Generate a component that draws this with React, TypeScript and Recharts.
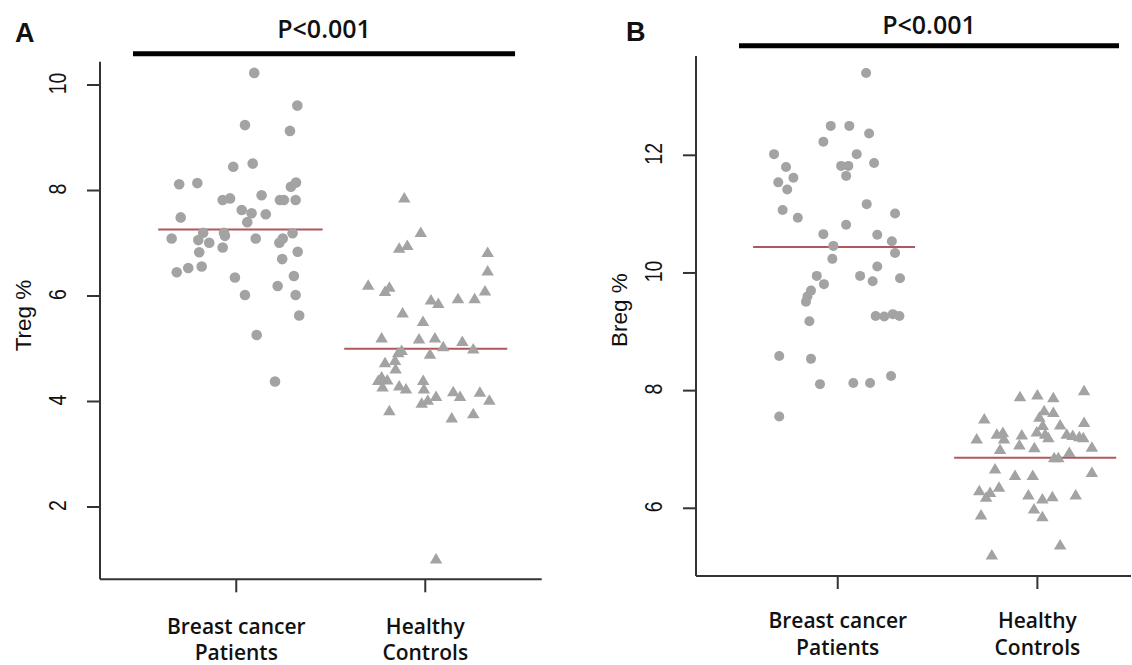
import React from 'react';
import { ScatterChart, Scatter, XAxis, YAxis, ReferenceLine } from 'recharts';

const GRAY = '#a3a3a3';
const MEAN_RED = '#b0585e';
const AXIS = '#333333';
const TEXT = '#111111';

const groupTicks = [1, 2];
const groupLabels = [
  ['Breast cancer', 'Patients'],
  ['Healthy', 'Controls'],
];
const pLabel = 'P<0.001';

// ---- Panel A: Treg %
const tregPatientsJitter = [0.095, 0.323, 0.046, 0.284, -0.016, 0.087, -0.302, -0.206, 0.289, 0.316, -0.072, -0.033, 0.134, 0.231, 0.252, 0.314, -0.294, 0.029, 0.081, 0.156, 0.058, -0.342, -0.201, -0.175, -0.143, -0.065, -0.06, 0.103, 0.228, 0.246, 0.298, -0.196, -0.072, 0.325, 0.243, -0.315, -0.254, -0.183, -0.007, 0.305, 0.219, 0.046, 0.314, 0.333, 0.108, 0.205];
const tregPatientsValues = [10.23, 9.61, 9.24, 9.13, 8.45, 8.51, 8.12, 8.14, 8.07, 8.15, 7.82, 7.85, 7.91, 7.82, 7.82, 7.82, 7.49, 7.63, 7.57, 7.55, 7.4, 7.09, 7.06, 7.2, 7.01, 7.2, 7.14, 7.09, 7.01, 7.09, 7.19, 6.83, 6.92, 6.84, 6.7, 6.45, 6.53, 6.56, 6.35, 6.38, 6.19, 6.02, 6.02, 5.63, 5.26, 4.38];
const tregControlsJitter = [-0.111, -0.024, -0.138, -0.095, 0.33, 0.33, -0.302, -0.213, -0.19, 0.316, 0.03, 0.069, 0.173, 0.261, -0.12, -0.012, -0.231, -0.033, 0.051, 0.196, 0.095, 0.254, -0.143, -0.125, 0.025, -0.213, -0.16, -0.157, -0.231, -0.249, -0.201, -0.226, -0.138, -0.102, -0.011, -0.007, 0.057, 0.148, 0.184, 0.289, 0.339, -0.019, 0.013, -0.19, 0.14, 0.254, 0.057];
const tregControlsValues = [7.87, 7.22, 6.92, 6.97, 6.84, 6.49, 6.22, 6.1, 6.18, 6.11, 5.94, 5.87, 5.96, 5.96, 5.69, 5.53, 5.22, 5.2, 5.22, 5.15, 5.05, 5.01, 4.94, 4.98, 4.91, 4.75, 4.79, 4.63, 4.48, 4.41, 4.42, 4.29, 4.31, 4.25, 4.41, 4.25, 4.11, 4.2, 4.11, 4.19, 4.04, 3.98, 4.04, 3.84, 3.7, 3.78, 1.03];
const tregMeans = [7.26, 5.0];
const tregTicks = [2, 4, 6, 8, 10];

// ---- Panel B: Breg %
const bregPatientsJitter = [0.142, -0.035, 0.058, 0.157, -0.072, -0.319, 0.095, -0.259, 0.017, 0.053, 0.182, -0.298, -0.222, -0.253, 0.042, -0.276, -0.2, 0.145, 0.287, 0.042, -0.072, 0.198, 0.271, -0.022, 0.287, -0.027, 0.198, -0.105, 0.112, 0.175, -0.069, 0.312, -0.134, -0.152, -0.159, -0.142, 0.19, 0.233, 0.276, 0.309, -0.293, -0.134, -0.089, 0.078, 0.162, 0.267, -0.293];
const bregPatientsValues = [13.4, 12.5, 12.5, 12.37, 12.23, 12.02, 12.02, 11.8, 11.82, 11.82, 11.87, 11.54, 11.62, 11.42, 11.65, 11.07, 10.94, 11.17, 11.01, 10.82, 10.66, 10.65, 10.54, 10.46, 10.34, 10.24, 10.11, 9.95, 9.95, 9.86, 9.81, 9.91, 9.7, 9.6, 9.51, 9.18, 9.27, 9.26, 9.3, 9.27, 8.59, 8.54, 8.11, 8.13, 8.13, 8.25, 7.56];
const bregControlsJitter = [0.234, -0.087, 0.0, 0.08, 0.034, 0.08, 0.01, -0.266, 0.234, 0.114, 0.027, -0.173, -0.203, -0.003, -0.078, 0.039, 0.147, 0.177, 0.21, -0.304, -0.167, 0.055, 0.23, -0.09, -0.015, -0.187, 0.16, 0.273, 0.084, 0.105, -0.212, -0.112, -0.023, 0.273, -0.291, -0.192, -0.237, -0.257, -0.045, 0.025, 0.075, 0.192, -0.017, -0.282, 0.025, 0.114, -0.228];
const bregControlsValues = [8.01, 7.91, 7.94, 7.89, 7.67, 7.64, 7.56, 7.53, 7.47, 7.43, 7.42, 7.3, 7.27, 7.31, 7.26, 7.27, 7.27, 7.25, 7.23, 7.19, 7.19, 7.21, 7.21, 7.09, 7.04, 7.01, 6.96, 7.05, 6.87, 6.87, 6.68, 6.57, 6.57, 6.62, 6.31, 6.37, 6.28, 6.2, 6.24, 6.17, 6.21, 6.24, 6.0, 5.9, 5.87, 5.39, 5.22];
const bregMeans = [10.44, 6.86];
const bregTicks = [6, 8, 10, 12];

const toPoints = (jitter: number[], values: number[], group: number) =>
  values.map((v, i) => ({ x: group + jitter[i], y: v }));

const panels = [
  {
    letter: 'A',
    letterPos: { left: 15, top: 18 },
    title: 'Treg %',
    left: 0,
    margin: { top: 61.7, right: 24.3, bottom: 0, left: 0 },
    yAxisWidth: 100,
    xAxisHeight: 85.7,
    xDomain: [0.279, 2.616],
    yDomain: [0.629, 10.442],
    yTicks: tregTicks,
    patients: toPoints(tregPatientsJitter, tregPatientsValues, 1),
    controls: toPoints(tregControlsJitter, tregControlsValues, 2),
    means: tregMeans,
    meanSpans: [[0.587, 1.457], [1.571, 2.434]],
    sig: { x1: 0.4536, x2: 2.475, y: 10.595, offset: 16 },
    titleX: 23,
    titleDy: -5,
    labelDy: [41.7, 67.7],
    r: 5.3,
  },
  {
    letter: 'B',
    letterPos: { left: 626, top: 17 },
    title: 'Breg %',
    left: 566,
    margin: { top: 56, right: 1, bottom: 0, left: 0 },
    yAxisWidth: 130,
    xAxisHeight: 89,
    xDomain: [0.29, 2.469],
    yDomain: [4.849, 13.688],
    yTicks: bregTicks,
    patients: toPoints(bregPatientsJitter, bregPatientsValues, 1),
    controls: toPoints(bregControlsJitter, bregControlsValues, 2),
    means: bregMeans,
    meanSpans: [[0.576, 1.387], [1.583, 2.395]],
    sig: { x1: 0.5054, x2: 2.409, y: 13.863, offset: 11.7 },
    titleX: 53,
    titleDy: -6,
    labelDy: [39.3, 66],
    r: 5,
  },
];

const makeYTick = () => (props: any) => {
  const { x, y, payload } = props;
  return (
    <g transform={`translate(${x - 29},${y - 1.5}) rotate(-90) scale(1,1.22)`}>
      <text
        x={0}
        y={0}
        textAnchor="middle"
        dominantBaseline="central"
        fontFamily="'Liberation Sans', Arial, sans-serif"
        fontSize={19.5}
        fill={TEXT}
      >
        {payload.value}
      </text>
    </g>
  );
};

const makeXTick = (dys: number[]) => (props: any) => {
  const { x, y, payload } = props;
  const lines = groupLabels[Math.round(payload.value) - 1] || [];
  return (
    <g>
      {lines.map((line, i) => (
        <text
          key={i}
          x={x}
          y={y + dys[i]}
          textAnchor="middle"
          fontFamily="'Open Sans', sans-serif"
          fontWeight={600}
          fontSize={21}
          fill={TEXT}
        >
          {line}
        </text>
      ))}
    </g>
  );
};

const makeYTitle = (text: string, tx: number, dy: number) => (props: any) => {
  const vb = props.viewBox || { x: 0, y: 0, width: 0, height: 0 };
  const cx = vb.x + tx;
  const cy = vb.y + vb.height / 2 + dy;
  return (
    <text
      x={cx}
      y={cy}
      transform={`rotate(-90, ${cx}, ${cy})`}
      textAnchor="middle"
      dominantBaseline="central"
      fontFamily="'Liberation Sans', Arial, sans-serif"
      fontSize={22.5}
      fill={TEXT}
    >
      {text}
    </text>
  );
};

const circleShape = (r: number) => (props: any) => (
  <circle cx={props.cx} cy={props.cy} r={r} fill={GRAY} />
);

const triangleShape = (props: any) => {
  const { cx, cy } = props;
  const w = 12.5;
  const h = 10.5;
  return (
    <polygon
      points={`${cx},${cy - h / 2} ${cx - w / 2},${cy + h / 2} ${cx + w / 2},${cy + h / 2}`}
      fill={GRAY}
    />
  );
};

function Panel({ cfg }: { cfg: (typeof panels)[number] }) {
  return (
    <div style={{ position: 'absolute', left: cfg.left, top: 0, width: 566, height: 665 }}>
      <ScatterChart width={566} height={665} margin={cfg.margin}>
        <XAxis
          type="number"
          dataKey="x"
          domain={cfg.xDomain}
          ticks={groupTicks}
          allowDataOverflow
          interval={0}
          height={cfg.xAxisHeight}
          tickSize={13}
          tickMargin={0}
          axisLine={{ stroke: AXIS, strokeWidth: 2 }}
          tickLine={{ stroke: AXIS, strokeWidth: 2 }}
          tick={makeXTick(cfg.labelDy)}
        />
        <YAxis
          type="number"
          dataKey="y"
          domain={cfg.yDomain}
          ticks={cfg.yTicks}
          allowDataOverflow
          interval={0}
          width={cfg.yAxisWidth}
          tickSize={13}
          tickMargin={0}
          axisLine={{ stroke: AXIS, strokeWidth: 2 }}
          tickLine={{ stroke: AXIS, strokeWidth: 2 }}
          tick={makeYTick()}
          label={makeYTitle(cfg.title, cfg.titleX, cfg.titleDy)}
        />
        <Scatter data={cfg.patients} shape={circleShape(cfg.r)} isAnimationActive={false} />
        <Scatter data={cfg.controls} shape={triangleShape} isAnimationActive={false} />
        {cfg.means.map((m, i) => (
          <ReferenceLine
            key={`mean-${i}`}
            segment={[
              { x: cfg.meanSpans[i][0], y: m },
              { x: cfg.meanSpans[i][1], y: m },
            ]}
            stroke={MEAN_RED}
            strokeWidth={2}
            ifOverflow="visible"
          />
        ))}
        <ReferenceLine
          segment={[
            { x: cfg.sig.x1, y: cfg.sig.y },
            { x: cfg.sig.x2, y: cfg.sig.y },
          ]}
          stroke="#000000"
          strokeWidth={5}
          ifOverflow="visible"
          label={{
            value: pLabel,
            position: 'top',
            offset: cfg.sig.offset,
            fontSize: 25,
            fill: TEXT,
            fontFamily: "'Open Sans', sans-serif",
            fontWeight: 600,
          }}
        />
      </ScatterChart>
      <div
        style={{
          position: 'absolute',
          left: cfg.letterPos.left - cfg.left,
          top: cfg.letterPos.top,
          fontFamily: "'Liberation Sans', Arial, sans-serif",
          fontWeight: 700,
          fontSize: 27,
          lineHeight: '30px',
          color: TEXT,
        }}
      >
        {cfg.letter}
      </div>
    </div>
  );
}

export default function App() {
  return (
    <div
      style={{
        position: 'absolute',
        left: 0,
        top: 0,
        width: 1132,
        height: 665,
        background: '#ffffff',
        overflow: 'hidden',
      }}
    >
      {panels.map((p) => (
        <Panel key={p.letter} cfg={p} />
      ))}
    </div>
  );
}
